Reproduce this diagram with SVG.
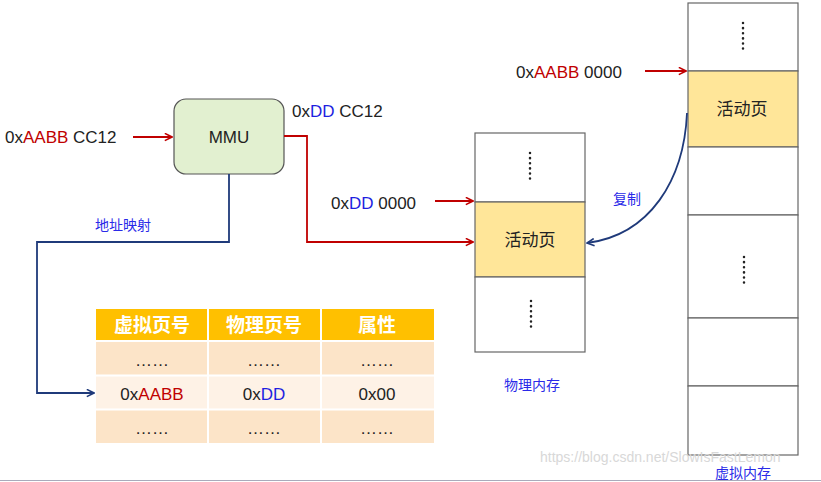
<svg xmlns="http://www.w3.org/2000/svg" width="821" height="482" viewBox="0 0 821 482">
<style>
text{font-family:"Liberation Sans","Noto Sans CJK SC",sans-serif;font-size:17px;fill:#222}
.cn{font-family:"Noto Sans CJK SC",sans-serif}
.r{fill:#c00000}.b{fill:#1f1fe0}
.lbl{font-family:"Noto Sans CJK SC",sans-serif;font-size:14px;fill:#2a2ae8}
.cell{fill:#fff;stroke:#666;stroke-width:1.2}
.act{fill:#ffe699;stroke:#666;stroke-width:1.2}
.dots{stroke:#222;stroke-width:2.5;stroke-dasharray:0.1 5;stroke-linecap:round}
.red{stroke:#c00000;stroke-width:1.8;fill:none}
.blue{stroke:#1f3a7a;stroke-width:1.8;fill:none}
.th{font-family:"Noto Sans CJK SC",sans-serif;font-weight:bold;font-size:19px;fill:#fff}
</style>
<defs>
<marker id="ar" viewBox="0 0 10 10" refX="9" refY="5" markerWidth="9" markerHeight="9" markerUnits="userSpaceOnUse" orient="auto"><path d="M1,1 L9,5 L1,9" fill="none" stroke="#c00000" stroke-width="1.8"/></marker>
<marker id="ab" viewBox="0 0 10 10" refX="9" refY="5" markerWidth="9" markerHeight="9" markerUnits="userSpaceOnUse" orient="auto"><path d="M1,1 L9,5 L1,9" fill="none" stroke="#1f3a7a" stroke-width="1.8"/></marker>
</defs>
<rect width="821" height="482" fill="#fff"/>
<g id="mmu"><rect x="174" y="99" width="110" height="75" rx="12" fill="#e2f0d0" stroke="#555" stroke-width="1.2"/><text x="229" y="143" text-anchor="middle">MMU</text></g>
<g id="table">
<rect x="96" y="309" width="338" height="31" fill="#ffc000"/>
<rect x="96" y="342" width="338" height="33" fill="#fce4c8"/>
<rect x="96" y="376" width="338" height="33" fill="#fef2e6"/>
<rect x="96" y="410" width="338" height="33" fill="#fce4c8"/>
<g stroke="#fff" stroke-width="2"><line x1="208" y1="309" x2="208" y2="443"/><line x1="321" y1="309" x2="321" y2="443"/><line x1="96" y1="341" x2="434" y2="341"/><line x1="96" y1="375.5" x2="434" y2="375.5"/><line x1="96" y1="409.5" x2="434" y2="409.5"/></g>
<text class="th" x="152" y="332" text-anchor="middle">虚拟页号</text><text class="th" x="264" y="332" text-anchor="middle">物理页号</text><text class="th" x="377" y="332" text-anchor="middle">属性</text>
<text x="152" y="366" text-anchor="middle">……</text><text x="264" y="366" text-anchor="middle">……</text><text x="377" y="366" text-anchor="middle">……</text>
<text x="152" y="400" text-anchor="middle">0x<tspan class="r">AABB</tspan></text><text x="264" y="400" text-anchor="middle">0x<tspan class="b">DD</tspan></text><text x="377" y="400" text-anchor="middle">0x00</text>
<text x="152" y="434" text-anchor="middle">……</text><text x="264" y="434" text-anchor="middle">……</text><text x="377" y="434" text-anchor="middle">……</text>
</g>
<g id="phys">
<rect class="cell" x="475" y="133" width="110" height="69"/><rect class="act" x="475" y="202" width="110" height="75"/><rect class="cell" x="475" y="277" width="110" height="75"/>
<line class="dots" x1="530" y1="153" x2="530" y2="180"/><line class="dots" x1="531" y1="301" x2="531" y2="328"/>
<text class="cn" x="530" y="246" text-anchor="middle">活动页</text>
<text class="lbl" x="532" y="390" text-anchor="middle">物理内存</text>
</g>
<g id="virt">
<rect class="cell" x="688" y="3" width="110" height="68"/><rect class="act" x="688" y="71" width="110" height="76"/><rect class="cell" x="688" y="147" width="110" height="68"/><rect class="cell" x="688" y="215" width="110" height="103"/><rect class="cell" x="688" y="318" width="110" height="68"/><rect class="cell" x="688" y="386" width="110" height="69"/>
<line class="dots" x1="743" y1="23" x2="743" y2="50"/><line class="dots" x1="744" y1="257" x2="744" y2="284"/>
<text class="cn" x="742" y="115" text-anchor="middle">活动页</text>
<text class="lbl" x="743" y="478" text-anchor="middle">虚拟内存</text>
</g>
<g id="labels">
<text x="5" y="143">0x<tspan class="r">AABB</tspan> CC12</text>
<text x="292" y="117">0x<tspan class="b">DD</tspan> CC12</text>
<text x="331" y="209">0x<tspan class="b">DD</tspan> 0000</text>
<text x="516" y="78">0x<tspan class="r">AABB</tspan> 0000</text>
<text class="lbl" x="123" y="230" text-anchor="middle">地址映射</text>
<text class="lbl" x="627" y="204" text-anchor="middle">复制</text>
<text x="540" y="462" style="font-size:14px;fill:#d8d8d8">https://blog.csdn.net/SlowIsFastLemon</text>
</g>
<g id="connectors">
<line class="red" x1="133" y1="137" x2="172" y2="137" marker-end="url(#ar)"/>
<polyline class="red" points="284,136 307,136 307,242 473,242" marker-end="url(#ar)"/>
<line class="red" x1="435" y1="201" x2="473" y2="201" marker-end="url(#ar)"/>
<line class="red" x1="645" y1="71" x2="686" y2="71" marker-end="url(#ar)"/>
<polyline class="blue" points="229,174 229,242 37,242 37,393 94,393" marker-end="url(#ab)"/>
<path class="blue" d="M687,113 C684,180 650,235 587,243" marker-end="url(#ab)"/>
</g>
<line x1="0" y1="480.5" x2="821" y2="480.5" stroke="#aab" stroke-width="1"/>
</svg>
